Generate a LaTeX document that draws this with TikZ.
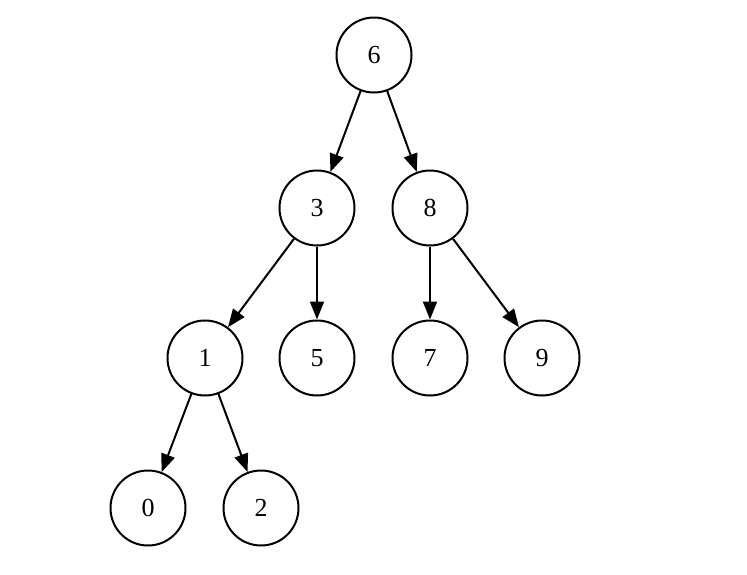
\documentclass[tikz,border=0pt]{standalone}
\usepackage{fontspec}
\setmainfont{Liberation Serif}
\usetikzlibrary{arrows.meta}
\begin{document}
\begin{tikzpicture}[x=1pt,y=-1pt,
  tnode/.style={circle,draw=black,line width=2pt,minimum size=75pt,inner sep=0pt,font=\fontsize{26}{30}\selectfont},
  edge/.style={draw=black,line width=2pt,-{Triangle[length=18pt,width=14pt]}}]
\useasboundingbox (0,0) rectangle (747,574);
\node[tnode] (n6) at (374,55) {6};
\node[tnode] (n3) at (317,208) {3};
\node[tnode] (n8) at (430,208) {8};
\node[tnode] (n1) at (205,358) {1};
\node[tnode] (n5) at (317,358) {5};
\node[tnode] (n7) at (430,358) {7};
\node[tnode] (n9) at (542,358) {9};
\node[tnode] (n0) at (148,508) {0};
\node[tnode] (n2) at (261,508) {2};
\draw[edge] (n6) -- (n3);
\draw[edge] (n6) -- (n8);
\draw[edge] (n3) -- (n1);
\draw[edge] (n3) -- (n5);
\draw[edge] (n8) -- (n7);
\draw[edge] (n8) -- (n9);
\draw[edge] (n1) -- (n0);
\draw[edge] (n1) -- (n2);
\end{tikzpicture}
\end{document}
